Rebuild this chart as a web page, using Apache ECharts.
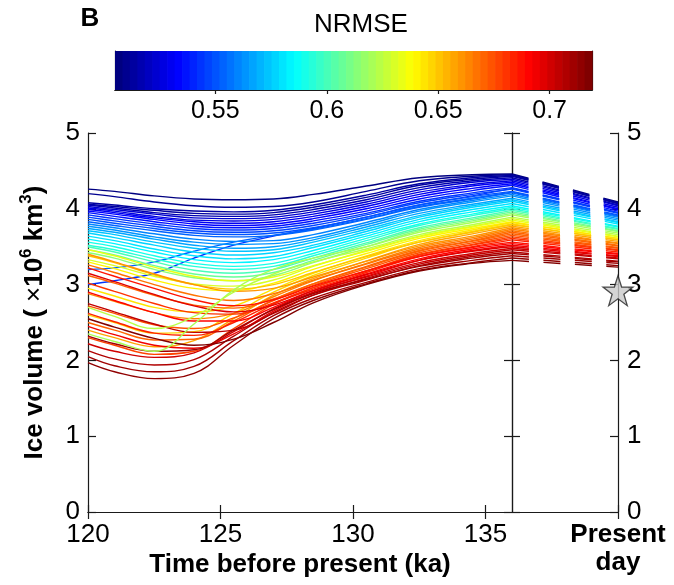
<!DOCTYPE html>
<html><head><meta charset="utf-8">
<script src="https://cdn.jsdelivr.net/npm/echarts@6/dist/echarts.min.js"></script>
<style>html,body{margin:0;padding:0;background:#fff}#c{width:674px;height:585px}</style>
</head><body><div id="c"></div>
<script>
// ---- data ----
const timeKa = [120, 121, 122.5, 124, 125.5, 127, 128.5, 130.5, 132.5, 134.5, 136];
const presentDayX = [136, 140];
const xTickLabels = ['120', '125', '130', '135'];
const yTicks = [0, 1, 2, 3, 4, 5];
const colorbarTicks = [0.55, 0.6, 0.65, 0.7];
const colorbarRange = [0.505, 0.719];
const starPoint = [140, 2.92];

const nrmse = [
  0.544, 0.552,
  0.506, 0.509, 0.512, 0.515, 0.518, 0.522, 0.526, 0.530, 0.534, 0.538, 0.542, 0.546, 0.550, 0.554,
  0.560, 0.564, 0.568, 0.572, 0.576, 0.580, 0.585, 0.590, 0.595,
  0.600, 0.607, 0.614, 0.630,
  0.635, 0.640, 0.644, 0.648, 0.652, 0.656,
  0.660, 0.663, 0.666, 0.669, 0.672, 0.675, 0.678, 0.681, 0.684,
  0.688, 0.691, 0.694, 0.697, 0.700, 0.703, 0.706, 0.709, 0.712, 0.715, 0.718,
  0.620, 0.625
];

const iceVolume = [
  [3.00,3.05,3.15,3.35,3.52,3.64,3.74,3.89,4.05,4.17,4.27],
  [3.20,3.22,3.30,3.44,3.56,3.65,3.73,3.87,4.03,4.14,4.22],
  [4.26,4.23,4.17,4.13,4.12,4.13,4.19,4.30,4.41,4.45,4.46],
  [4.20,4.16,4.09,4.04,4.02,4.03,4.09,4.23,4.37,4.43,4.45],
  [4.08,4.05,4.00,3.97,3.96,3.98,4.05,4.18,4.33,4.41,4.44],
  [4.06,4.03,3.98,3.94,3.93,3.95,4.02,4.15,4.31,4.39,4.43],
  [4.05,4.01,3.95,3.91,3.90,3.92,3.99,4.12,4.28,4.37,4.41],
  [4.03,3.99,3.93,3.88,3.87,3.89,3.96,4.09,4.25,4.35,4.39],
  [4.01,3.97,3.90,3.85,3.84,3.86,3.93,4.06,4.22,4.32,4.37],
  [3.99,3.95,3.88,3.83,3.81,3.83,3.90,4.03,4.19,4.30,4.35],
  [3.97,3.93,3.86,3.80,3.78,3.80,3.87,4.00,4.16,4.27,4.33],
  [3.95,3.90,3.83,3.77,3.75,3.77,3.84,3.97,4.13,4.24,4.31],
  [3.92,3.87,3.80,3.74,3.72,3.74,3.81,3.94,4.10,4.21,4.28],
  [3.89,3.84,3.77,3.71,3.69,3.71,3.78,3.92,4.08,4.19,4.26],
  [3.86,3.81,3.74,3.68,3.66,3.68,3.75,3.89,4.05,4.16,4.23],
  [3.83,3.78,3.71,3.65,3.63,3.65,3.72,3.86,4.02,4.13,4.21],
  [3.80,3.75,3.67,3.60,3.57,3.58,3.66,3.82,3.99,4.11,4.19],
  [3.77,3.72,3.63,3.56,3.53,3.54,3.62,3.79,3.97,4.09,4.17],
  [3.74,3.69,3.60,3.52,3.48,3.50,3.59,3.76,3.94,4.06,4.14],
  [3.71,3.66,3.56,3.48,3.44,3.46,3.56,3.73,3.91,4.04,4.12],
  [3.68,3.62,3.52,3.43,3.39,3.42,3.52,3.70,3.89,4.02,4.10],
  [3.64,3.58,3.47,3.38,3.34,3.37,3.49,3.67,3.86,3.99,4.07],
  [3.60,3.54,3.43,3.33,3.29,3.33,3.45,3.64,3.83,3.96,4.04],
  [3.56,3.50,3.38,3.28,3.24,3.28,3.41,3.61,3.80,3.93,4.02],
  [3.52,3.46,3.34,3.24,3.20,3.24,3.38,3.58,3.78,3.91,4.00],
  [3.50,3.43,3.30,3.19,3.15,3.20,3.35,3.55,3.75,3.88,3.98],
  [3.46,3.39,3.25,3.14,3.10,3.16,3.32,3.53,3.73,3.86,3.96],
  [3.42,3.35,3.20,3.09,3.05,3.12,3.29,3.50,3.71,3.84,3.94],
  [3.33,3.25,3.11,3.01,2.98,3.06,3.24,3.45,3.64,3.77,3.87],
  [3.46,3.38,3.23,3.11,3.05,3.10,3.25,3.44,3.63,3.76,3.85],
  [3.30,3.21,3.06,2.95,2.92,3.02,3.20,3.41,3.61,3.74,3.83],
  [2.95,2.85,2.70,2.64,2.72,2.94,3.15,3.38,3.58,3.72,3.82],
  [2.60,2.50,2.36,2.38,2.62,2.90,3.12,3.35,3.56,3.70,3.80],
  [3.38,3.29,3.13,3.00,2.94,3.00,3.16,3.37,3.56,3.69,3.79],
  [2.40,2.30,2.18,2.26,2.55,2.86,3.08,3.31,3.53,3.67,3.77],
  [3.40,3.30,3.14,3.00,2.91,2.95,3.10,3.31,3.51,3.64,3.75],
  [2.88,2.78,2.63,2.55,2.62,2.84,3.05,3.28,3.49,3.62,3.73],
  [3.26,3.16,3.00,2.86,2.79,2.88,3.06,3.27,3.47,3.60,3.71],
  [2.50,2.40,2.27,2.28,2.52,2.80,3.01,3.24,3.45,3.58,3.69],
  [3.12,3.02,2.86,2.73,2.69,2.81,3.01,3.23,3.44,3.57,3.67],
  [2.72,2.62,2.47,2.42,2.56,2.79,2.99,3.21,3.42,3.55,3.65],
  [2.30,2.20,2.08,2.12,2.42,2.74,2.96,3.18,3.40,3.53,3.63],
  [3.02,2.91,2.75,2.63,2.61,2.76,2.96,3.18,3.39,3.52,3.61],
  [2.62,2.51,2.36,2.33,2.50,2.75,2.94,3.16,3.37,3.50,3.59],
  [3.22,3.11,2.95,2.80,2.72,2.80,2.98,3.18,3.37,3.49,3.56],
  [2.90,2.79,2.63,2.52,2.52,2.70,2.92,3.14,3.34,3.47,3.54],
  [2.45,2.34,2.20,2.16,2.35,2.65,2.89,3.11,3.32,3.45,3.52],
  [3.15,3.04,2.87,2.72,2.64,2.73,2.92,3.13,3.32,3.44,3.50],
  [2.22,2.12,2.04,2.10,2.38,2.68,2.90,3.10,3.29,3.41,3.48],
  [2.75,2.64,2.48,2.37,2.40,2.62,2.86,3.08,3.27,3.39,3.46],
  [2.13,2.02,1.94,2.01,2.32,2.63,2.86,3.06,3.25,3.37,3.43],
  [2.32,2.22,2.12,2.14,2.40,2.67,2.88,3.07,3.24,3.35,3.41],
  [2.05,1.93,1.85,1.92,2.26,2.59,2.82,3.03,3.21,3.32,3.38],
  [1.97,1.85,1.76,1.83,2.20,2.55,2.79,3.01,3.19,3.29,3.35],
  [2.55,2.44,2.29,2.20,2.28,2.50,2.76,3.00,3.18,3.28,3.32],
  [2.35,2.25,2.12,2.48,2.93,3.20,3.35,3.50,3.69,3.82,3.92],
  [2.70,2.58,2.42,2.58,2.90,3.14,3.30,3.47,3.66,3.79,3.89]
];

const presentDayVolume = [
  3.95, 3.91,
  4.09, 4.08, 4.07, 4.07, 4.05, 4.04, 4.02, 4.00, 3.99, 3.97, 3.95, 3.94, 3.92, 3.90,
  3.89, 3.87, 3.85, 3.83, 3.82, 3.80, 3.77, 3.76, 3.74,
  3.73, 3.71, 3.70, 3.64,
  3.63, 3.61, 3.61, 3.59, 3.59, 3.57,
  3.55, 3.54, 3.52, 3.51, 3.49, 3.48, 3.46, 3.45, 3.43,
  3.41, 3.40, 3.38, 3.37, 3.35, 3.34, 3.31, 3.30, 3.28, 3.25, 3.23,
  3.68, 3.66
];

// ---- jet colormap (MATLAB style, 64 levels) ----
const NLEV = 64;
function clamp(v) { return Math.max(0, Math.min(1, v)); }
function jetLevel(k) {
  const t = k / (NLEV - 1);
  const r = clamp(1.5 - Math.abs(4 * t - 3));
  const g = clamp(1.5 - Math.abs(4 * t - 2));
  const b = clamp(1.5 - Math.abs(4 * t - 1));
  return 'rgb(' + Math.round(r * 255) + ',' + Math.round(g * 255) + ',' + Math.round(b * 255) + ')';
}
function jetValue(v) {
  const t = (v - colorbarRange[0]) / (colorbarRange[1] - colorbarRange[0]);
  const k = Math.max(0, Math.min(NLEV - 1, Math.floor(t * NLEV)));
  return jetLevel(k);
}

const FONT = "'Liberation Sans', Arial, Helvetica, sans-serif";
const AX = '#1a1a1a';

const series = [];
iceVolume.forEach(function (vals, i) {
  const col = jetValue(nrmse[i]);
  series.push({
    type: 'line', xAxisIndex: 0, yAxisIndex: 0, silent: true, symbol: 'none', smooth: 0.4,
    data: timeKa.map(function (t, j) { return [t, vals[j]]; }),
    lineStyle: { color: col, width: 1.4 }, z: 2
  });
  series.push({
    type: 'line', xAxisIndex: 0, yAxisIndex: 0, silent: true, symbol: 'none',
    data: [[presentDayX[0], vals[vals.length - 1]], [presentDayX[1], presentDayVolume[i]]],
    lineStyle: { color: col, width: 1.4, type: [17, 14.5] }, z: 2
  });
});

series.push({
  type: 'scatter', xAxisIndex: 0, yAxisIndex: 0, silent: true, clip: false, z: 10,
  data: [starPoint],
  symbol: 'path://M50,0 L61.8,35.1 L98.9,35.4 L69.1,57.6 L80.2,93 L50,71.5 L19.8,93 L30.9,57.6 L1.1,35.4 L38.2,35.1 Z',
  symbolSize: 30,
  itemStyle: { color: '#c9c9c9', borderColor: '#222', borderWidth: 1.3 }
});

// colorbar cells
const cbCells = [];
for (let k = 0; k < NLEV; k++) {
  const lo = colorbarRange[0] + (colorbarRange[1] - colorbarRange[0]) * k / NLEV;
  const hi = colorbarRange[0] + (colorbarRange[1] - colorbarRange[0]) * (k + 1) / NLEV;
  cbCells.push([lo, hi, k]);
}
series.push({
  type: 'custom', xAxisIndex: 2, yAxisIndex: 4, silent: true, data: cbCells, z: 1,
  encode: { x: [0, 1] },
  renderItem: function (params, api) {
    const p0 = api.coord([api.value(0), 1]);
    const p1 = api.coord([api.value(1), 0]);
    return { type: 'rect', shape: { x: p0[0], y: p0[1], width: p1[0] - p0[0] + 0.7, height: p1[1] - p0[1] },
             style: { fill: jetLevel(api.value(2)) } };
  }
});

const tickLbl = { fontSize: 26, color: '#000', fontFamily: FONT };

const option = {
  animation: false,
  backgroundColor: '#fff',
  textStyle: { fontFamily: FONT },
  grid: [
    { left: 88, top: 133, width: 530, height: 379, outerBoundsMode: 'none', containLabel: false },
    { left: 115, top: 51, width: 477, height: 39, outerBoundsMode: 'none', containLabel: false }
  ],
  graphic: [
    { type: 'text', x: 90, y: 19, style: { text: 'B', font: 'bold 26px ' + FONT, fill: '#000', textAlign: 'center', textVerticalAlign: 'middle' } },
    { type: 'text', x: 361, y: 25, style: { text: 'NRMSE', font: '26px ' + FONT, fill: '#000', textAlign: 'center', textVerticalAlign: 'middle' } }
  ],
  xAxis: [
    {
      gridIndex: 0, type: 'value', position: 'bottom', min: 120, max: 140, interval: 5,
      axisLine: { show: true, lineStyle: { color: AX, width: 1.2 } },
      axisTick: { show: true, inside: true, length: 7, lineStyle: { color: AX, width: 1.2 } },
      splitLine: { show: false },
      axisLabel: {
        show: true, margin: 9, lineHeight: 28, fontSize: 26, color: '#000', fontFamily: FONT,
        showMinLabel: true, showMaxLabel: true,
        formatter: function (v) {
          if (v === 140) return '{b|Present}\n{b|day}';
          const i = [120, 125, 130, 135].indexOf(v);
          return i >= 0 ? xTickLabels[i] : '';
        },
        rich: { b: { fontWeight: 'bold', fontSize: 26, lineHeight: 28, fontFamily: FONT, color: '#000' } }
      },
      name: 'Time before present (ka)', nameLocation: 'middle', nameGap: 40, nameMoveOverlap: false,
      nameTextStyle: { fontSize: 26, fontWeight: 'bold', color: '#000', fontFamily: FONT, padding: [0, 106, 0, 0] }
    },
    {
      gridIndex: 0, type: 'value', position: 'top', min: 120, max: 140, interval: 5,
      axisLine: { show: true, lineStyle: { color: AX, width: 1.2 } },
      axisTick: { show: true, inside: true, length: 7, lineStyle: { color: AX, width: 1.2 } },
      axisLabel: { show: false }, splitLine: { show: false }
    },
    {
      gridIndex: 1, type: 'value', position: 'bottom', min: colorbarRange[0], max: colorbarRange[1],
      axisLine: { show: true, lineStyle: { color: AX, width: 1.2 } },
      axisTick: { show: true, inside: true, length: 4, customValues: colorbarTicks, lineStyle: { color: AX, width: 1.2 } },
      axisLabel: { show: true, customValues: colorbarTicks, margin: 9, fontSize: 25, color: '#000', fontFamily: FONT,
        formatter: function (v) { return String(Math.round(v * 100) / 100); } },
      splitLine: { show: false }
    },
    {
      gridIndex: 1, type: 'value', position: 'top', min: colorbarRange[0], max: colorbarRange[1],
      axisLine: { show: true, lineStyle: { color: AX, width: 1.2 } },
      axisTick: { show: true, inside: true, length: 4, customValues: colorbarTicks, lineStyle: { color: AX, width: 1.2 } },
      axisLabel: { show: false }, splitLine: { show: false }
    }
  ],
  yAxis: [
    {
      gridIndex: 0, type: 'value', position: 'left', min: 0, max: 5, interval: 1,
      axisLine: { show: true, lineStyle: { color: AX, width: 1.2 } },
      axisTick: { show: true, inside: true, length: 8, lineStyle: { color: AX, width: 1.2 } },
      axisLabel: Object.assign({ margin: 8, formatter: function (v) { return String(yTicks[v]); } }, tickLbl),
      splitLine: { show: false },
      name: 'Ice volume ( {n|×}10{s|6} km{s|3})', nameLocation: 'middle', nameGap: 36, nameRotate: 90, nameMoveOverlap: false,
      nameTextStyle: {
        fontSize: 26, fontWeight: 'bold', color: '#000', fontFamily: FONT, lineHeight: 34,
        rich: {
          n: { fontSize: 26, fontWeight: 'normal', color: '#000', fontFamily: FONT, lineHeight: 34 },
          s: { fontSize: 17, fontWeight: 'bold', color: '#000', fontFamily: FONT, verticalAlign: 'top', lineHeight: 17 }
        }
      }
    },
    {
      gridIndex: 0, type: 'value', position: 'right', min: 0, max: 5, interval: 1,
      axisLine: { show: true, lineStyle: { color: AX, width: 1.2 } },
      axisTick: { show: true, inside: true, length: 8, lineStyle: { color: AX, width: 1.2 } },
      axisLabel: Object.assign({ margin: 9, formatter: function (v) { return String(yTicks[v]); } }, tickLbl),
      splitLine: { show: false }
    },
    {
      gridIndex: 0, type: 'value', position: 'left', offset: -424, min: 0, max: 5, interval: 1,
      axisLine: { show: true, lineStyle: { color: AX, width: 1.2 } },
      axisTick: { show: true, inside: true, length: 8, lineStyle: { color: AX, width: 1.2 } },
      axisLabel: { show: false }, splitLine: { show: false }
    },
    {
      gridIndex: 0, type: 'value', position: 'left', offset: -424, min: 0, max: 5, interval: 1,
      axisLine: { show: true, lineStyle: { color: AX, width: 1.2 } },
      axisTick: { show: true, inside: false, length: 8, lineStyle: { color: AX, width: 1.2 } },
      axisLabel: { show: false }, splitLine: { show: false }
    },
    {
      gridIndex: 1, type: 'value', position: 'left', min: 0, max: 1,
      axisLine: { show: true, lineStyle: { color: AX, width: 1.2 } },
      axisTick: { show: false }, axisLabel: { show: false }, splitLine: { show: false }
    },
    {
      gridIndex: 1, type: 'value', position: 'right', min: 0, max: 1,
      axisLine: { show: true, lineStyle: { color: AX, width: 1.2 } },
      axisTick: { show: false }, axisLabel: { show: false }, splitLine: { show: false }
    }
  ],
  series: series
};

const chart = echarts.init(document.getElementById('c'), null, { renderer: 'canvas' });
chart.setOption(option);
</script>
</body></html>
